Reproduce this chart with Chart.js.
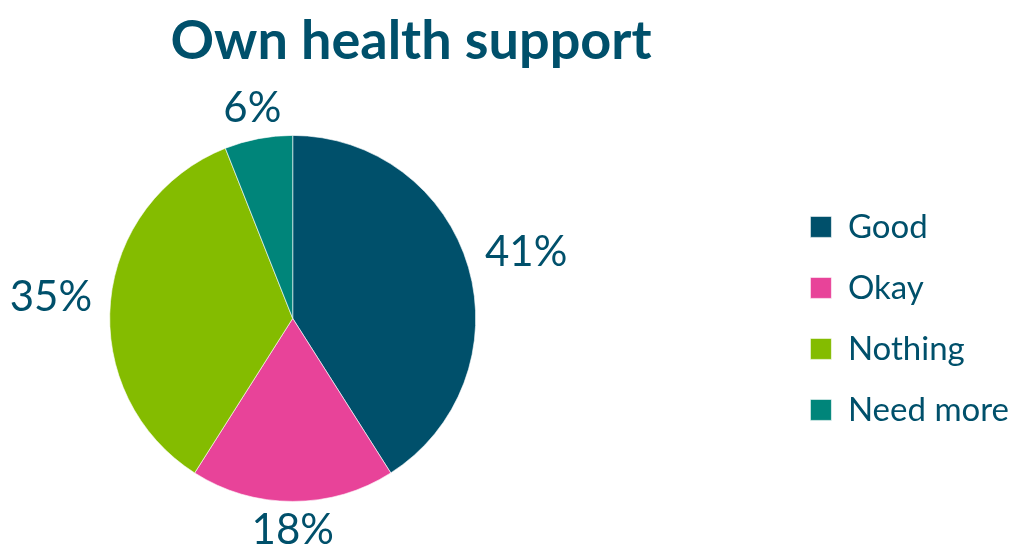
<!DOCTYPE html>
<html>
<head>
<meta charset="utf-8">
<script src="https://cdn.jsdelivr.net/npm/chart.js@4/dist/chart.umd.min.js"></script>
<style>
  html, body { margin: 0; padding: 0; background: #ffffff; overflow: hidden; }
  /* the canvas reaches past the left edge so the pie sits left of the page centre */
  #wrap { width: 1212px; height: 544px; position: absolute; left: -197px; top: 0; }
</style>
</head>
<body>
<div id="wrap"><canvas id="pie"></canvas></div>
<script>
// Survey answers and their shares (percent)
const categories = ['Good', 'Okay', 'Nothing', 'Need more'];
const shares = [41, 18, 35, 6];
const sliceColors = ['#00506B', '#E84399', '#84BC00', '#00857A'];
const titleText = 'Own health support';

const INK = '#00506B';
const FONT = 'Lato, "Open Sans", sans-serif';

// Percent labels placed just outside each slice
const outsideLabels = {
  id: 'outsideLabels',
  afterDatasetsDraw(chart) {
    const { ctx } = chart;
    const meta = chart.getDatasetMeta(0);
    const values = chart.data.datasets[0].data;
    ctx.save();
    ctx.font = '42px ' + FONT;
    ctx.fillStyle = INK;
    ctx.textAlign = 'center';
    ctx.textBaseline = 'alphabetic';
    meta.data.forEach((arc, i) => {
      const p = arc.getProps(['x', 'y', 'startAngle', 'endAngle', 'outerRadius'], true);
      const mid = (p.startAngle + p.endAngle) / 2;
      const dx = Math.cos(mid), dy = Math.sin(mid);
      const text = values[i] + '%';
      const m = ctx.measureText(text);
      const w = m.width;
      const dist = p.outerRadius + 18 + Math.abs(dx) * w / 2 + Math.abs(dy) * 9;
      const cx = p.x + dx * dist;
      const cy = p.y + dy * dist;
      // centre the glyphs visually on (cx, cy)
      const shift = (m.actualBoundingBoxAscent - m.actualBoundingBoxDescent) / 2;
      ctx.fillText(text, cx, cy + shift);
    });
    ctx.restore();
  }
};

new Chart(document.getElementById('pie'), {
  type: 'pie',
  data: {
    labels: categories,
    datasets: [{
      data: shares,
      backgroundColor: sliceColors,
      borderColor: 'rgba(255,255,255,0.6)',
      borderWidth: 1,
      radius: 183
    }]
  },
  options: {
    responsive: true,
    maintainAspectRatio: false,
    animation: false,
    layout: { autoPadding: false, padding: { left: 0, right: -4, top: 0, bottom: 0 } },
    plugins: {
      title: {
        display: true,
        text: titleText,
        color: INK,
        font: { family: FONT, size: 54, weight: 'bold' },
        padding: { top: 9, bottom: 19 }
      },
      legend: {
        position: 'right',
        fullSize: false,
        labels: {
          color: INK,
          font: { family: FONT, size: 33 },
          boxWidth: 21,
          boxHeight: 21,
          padding: 28
        }
      },
      tooltip: { enabled: false }
    }
  },
  plugins: [outsideLabels]
});
</script>
</body>
</html>
